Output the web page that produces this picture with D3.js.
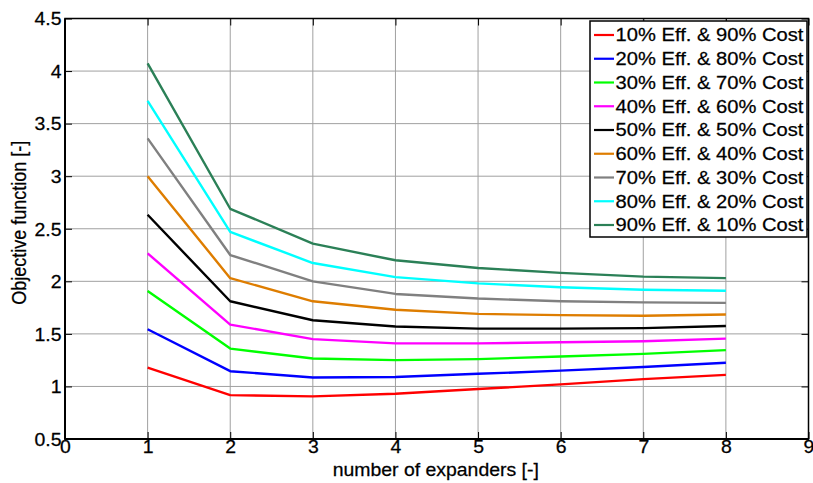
<!DOCTYPE html>
<html>
<head>
<meta charset="utf-8">
<script src="https://cdn.jsdelivr.net/npm/d3@7"></script>
<style>
  html, body { margin: 0; padding: 0; background: #fff; }
  svg { display: block; }
  text { font-family: "Liberation Sans", Arial, Helvetica, sans-serif; fill: #000; stroke: #000; stroke-width: 0.25px; }
</style>
</head>
<body>
<svg id="chart" width="813" height="483"></svg>
<script>
// ---- data ----
const expanders = [1, 2, 3, 4, 5, 6, 7, 8];
const seriesNames = [
  "10% Eff. & 90% Cost",
  "20% Eff. & 80% Cost",
  "30% Eff. & 70% Cost",
  "40% Eff. & 60% Cost",
  "50% Eff. & 50% Cost",
  "60% Eff. & 40% Cost",
  "70% Eff. & 30% Cost",
  "80% Eff. & 20% Cost",
  "90% Eff. & 10% Cost"
];
const eff10 = [1.18, 0.917, 0.905, 0.93, 0.975, 1.02, 1.07, 1.11];
const eff20 = [1.544, 1.145, 1.085, 1.09, 1.12, 1.15, 1.185, 1.225];
const eff30 = [1.908, 1.36, 1.266, 1.25, 1.26, 1.285, 1.31, 1.345];
const eff40 = [2.266, 1.588, 1.45, 1.41, 1.41, 1.42, 1.43, 1.455];
const eff50 = [2.633, 1.81, 1.63, 1.57, 1.55, 1.55, 1.555, 1.575];
const eff60 = [3.0, 2.03, 1.81, 1.73, 1.69, 1.678, 1.672, 1.684];
const eff70 = [3.36, 2.25, 2.0, 1.88, 1.836, 1.81, 1.80, 1.795];
const eff80 = [3.716, 2.47, 2.174, 2.04, 1.98, 1.943, 1.92, 1.91];
const eff90 = [4.073, 2.69, 2.358, 2.2, 2.127, 2.08, 2.045, 2.03];
const seriesValues = [eff10, eff20, eff30, eff40, eff50, eff60, eff70, eff80, eff90];
const seriesColors = ["#ff0000", "#0000ff", "#00ff00", "#ff00ff", "#000000",
                      "#de7d00", "#808080", "#00ffff", "#2b8057"];
const xTicks = [0, 1, 2, 3, 4, 5, 6, 7, 8, 9];
const yTicks = [0.5, 1, 1.5, 2, 2.5, 3, 3.5, 4, 4.5];
const xLabel = "number of expanders [-]";
const yLabel = "Objective function [-]";

// ---- layout ----
const L = 65, R = 808.5, T = 18.5, B = 439;
const SX = 1.08; // horizontal glyph stretch
const svg = d3.select("#chart");
const x = d3.scaleLinear().domain([0, 9]).range([L, R]);
const y = d3.scaleLinear().domain([0.5, 4.5]).range([B, T]);

// grid
const grid = svg.append("g");
grid.selectAll("line.vx").data(xTicks.filter(d => d > 0 && d < 9)).join("line")
  .attr("x1", d => x(d)).attr("x2", d => x(d)).attr("y1", T).attr("y2", B)
  .attr("stroke", "#a0a0a0").attr("stroke-width", 1);
grid.selectAll("line.hy").data(yTicks.filter(d => d > 0.5 && d < 4.5)).join("line")
  .attr("x1", L).attr("x2", R).attr("y1", d => y(d)).attr("y2", d => y(d))
  .attr("stroke", "#a0a0a0").attr("stroke-width", 1);

// lines
const line = d3.line().x((d, i) => x(expanders[i])).y(d => y(d));
svg.append("g").selectAll("path").data(seriesValues).join("path")
  .attr("d", d => line(d))
  .attr("fill", "none")
  .attr("stroke", (d, i) => seriesColors[i])
  .attr("stroke-width", 2.4)
  .attr("stroke-linejoin", "round");

// axes
const fs = 18;
const xAxis = d3.axisBottom(x).tickValues(xTicks).tickSize(-7).tickPadding(0).tickFormat(d3.format("d"));
const gx = svg.append("g").attr("transform", `translate(0,${B})`).call(xAxis);
gx.select(".domain").remove();
gx.selectAll(".tick line").attr("stroke", "#000");
gx.selectAll(".tick text").attr("font-size", fs).attr("dy", "0.78em").attr("y", 0)
  .attr("transform", `scale(${SX},1)`)
  .attr("x", 0);

const yAxis = d3.axisLeft(y).tickValues(yTicks).tickSize(-7).tickPadding(4).tickFormat(d => String(d));
const gy = svg.append("g").attr("transform", `translate(${L},0)`).call(yAxis);
gy.select(".domain").remove();
gy.selectAll(".tick line").attr("stroke", "#000");
gy.selectAll(".tick text").attr("font-size", fs).attr("dy", "0.35em")
  .attr("x", -3.5 / SX).attr("transform", `scale(${SX},1)`);

// top and right ticks
const gt = svg.append("g").attr("transform", `translate(0,${T})`).call(d3.axisTop(x).tickValues(xTicks).tickSize(-7).tickFormat(""));
gt.select(".domain").remove(); gt.selectAll(".tick line").attr("stroke", "#000");
const gr = svg.append("g").attr("transform", `translate(${R},0)`).call(d3.axisRight(y).tickValues(yTicks).tickSize(-7).tickFormat(""));
gr.select(".domain").remove(); gr.selectAll(".tick line").attr("stroke", "#000");

// box
svg.append("rect").attr("x", L).attr("y", T).attr("width", R - L).attr("height", B - T)
  .attr("fill", "none").attr("stroke", "#000").attr("stroke-width", 1.5);
svg.append("line").attr("x1", L - 0.5).attr("x2", R).attr("y1", B).attr("y2", B).attr("stroke", "#000").attr("stroke-width", 2);
svg.append("line").attr("x1", L).attr("x2", L).attr("y1", T).attr("y2", B + 0.5).attr("stroke", "#000").attr("stroke-width", 2);

// axis labels
svg.append("text").attr("text-anchor", "middle").attr("font-size", 18)
  .attr("transform", `translate(${(L + R) / 2 - 1},476) scale(${SX},1)`)
  .text(xLabel);
svg.append("text").attr("text-anchor", "middle").attr("font-size", 18)
  .attr("transform", `translate(26,${(T + B) / 2 - 6}) rotate(-90) scale(1,${SX})`)
  .text(yLabel);

// legend
const lgX = 590, lgY = 21, lgW = 217, lgH = 216, rowH = 23.75;
const lg = svg.append("g");
lg.append("rect").attr("x", lgX).attr("y", lgY).attr("width", lgW).attr("height", lgH)
  .attr("fill", "#fff").attr("stroke", "#000").attr("stroke-width", 1.5);
const rows = lg.selectAll("g.row").data(seriesNames).join("g")
  .attr("transform", (d, i) => `translate(0,${lgY + 14 + i * rowH})`);
rows.append("line").attr("x1", lgX + 4).attr("x2", lgX + 24).attr("y1", 0).attr("y2", 0)
  .attr("stroke", (d, i) => seriesColors[i]).attr("stroke-width", 2.2);
rows.append("text").attr("font-size", 18.5).attr("dy", "0.35em")
  .attr("transform", `translate(${lgX + 25.5},0) scale(${SX + 0.01},1)`)
  .text(d => d);
</script>
</body>
</html>
